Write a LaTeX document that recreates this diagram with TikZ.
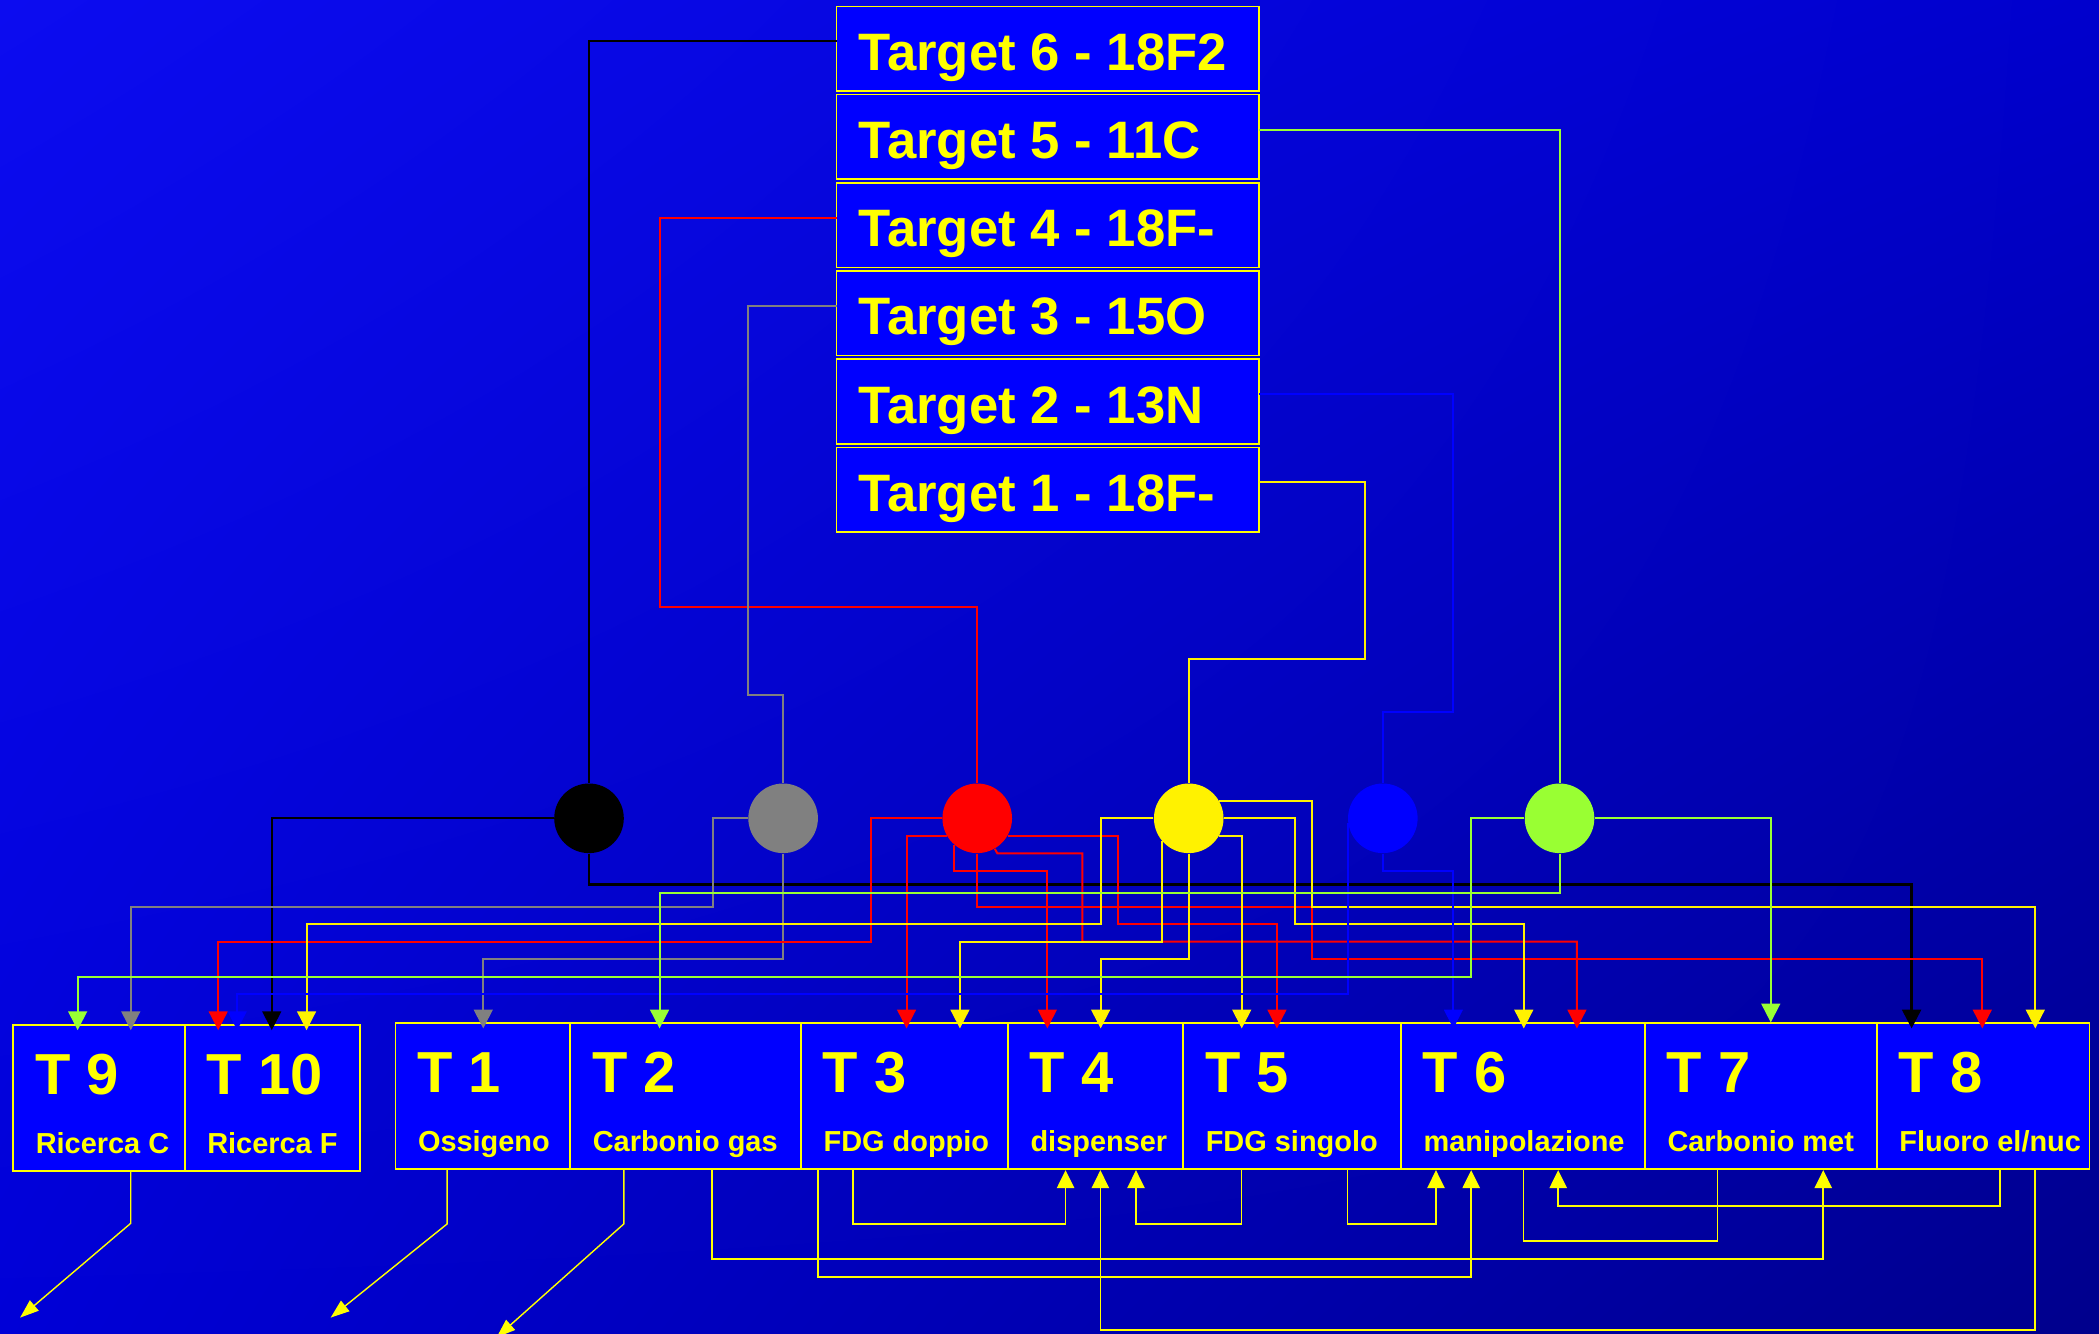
\documentclass[tikz,border=0pt]{standalone}
\usepackage{fontspec}
\setmainfont{Liberation Sans}
\usetikzlibrary{arrows.meta, positioning, fit, shadings}
\definecolor{slideblue}{RGB}{0,0,255}
\definecolor{labelyellow}{RGB}{255,255,0}
\definecolor{wiregreen}{RGB}{153,255,51}
\definecolor{wiregray}{RGB}{128,128,128}
\definecolor{bgul}{RGB}{12,12,240}
\definecolor{bgur}{RGB}{0,0,205}
\definecolor{bgll}{RGB}{0,0,215}
\definecolor{bglr}{RGB}{0,0,140}

\tikzset{
  tgbox/.style={draw=labelyellow, fill=slideblue, line width=0.7pt,
    minimum width=6.31cm, minimum height=1.265cm, inner sep=0pt, outer sep=0pt},
  tglabel/.style={text=labelyellow, inner sep=0pt, anchor=base west,
    font=\fontsize{22.4}{26}\selectfont\bfseries},
  tbox/.style={draw=labelyellow, fill=slideblue, line width=0.7pt, inner sep=0pt},
  tnum/.style={text=labelyellow, inner sep=0pt, anchor=base west,
    font=\fontsize{24.6}{28}\selectfont\bfseries},
  tsub/.style={text=labelyellow, inner sep=0pt, anchor=base west,
    font=\fontsize{12.3}{14}\selectfont\bfseries},
  hub/.style={circle, minimum size=1.04cm, inner sep=0pt},
  link/.style={line width=0.85pt},
  wire/.style={line width=0.85pt, -{Triangle[length=2.8mm, width=2.8mm]},
    shorten >=-0.09cm},
  feed/.style={labelyellow, line width=0.7pt,
    -{Triangle[length=2.7mm, width=2.6mm]}},
  outlet/.style={labelyellow, line width=0.6pt,
    -{Triangle[length=2.8mm, width=2mm]}},
}

\begin{document}
\begin{tikzpicture}[x=0.02cm, y=-0.02cm]
  \useasboundingbox (0,0) rectangle (1568,996);
  \shade[upper left=bgul, upper right=bgur, lower left=bgll, lower right=bglr]
    (0,0) rectangle (1568,996);

  % targets
  \node[tgbox, anchor=north west] (tg6) at (625,4.8) {};
  \node[tgbox, below=1.5pt of tg6] (tg5) {};
  \node[tgbox, below=1.5pt of tg5] (tg4) {};
  \node[tgbox, below=1.5pt of tg4] (tg3) {};
  \node[tgbox, below=1.5pt of tg3] (tg2) {};
  \node[tgbox, below=1.5pt of tg2] (tg1) {};
  \foreach \nm/\lbl in {tg6/Target 6 - 18F2, tg5/Target 5 - 11C,
      tg4/Target 4 - 18F-, tg3/Target 3 - 15O, tg2/Target 2 - 13N,
      tg1/Target 1 - 18F-}
    \node[tglabel] at ([xshift=0.325cm, yshift=-0.956cm]\nm.north west) {\lbl};

  % hot cells
  \foreach \nm/\xa/\xb/\ya/\yb/\num/\sub in {
      t9/9.9/138/765.7/874.8/9/Ricerca C,
      t10/138/269/765.7/874.8/10/Ricerca F,
      t1/295.4/426/764.4/873.5/1/Ossigeno,
      t2/426/598.4/764.4/873.5/2/Carbonio gas,
      t3/598.4/753/764.4/873.5/3/FDG doppio,
      t4/753/883.9/764.4/873.5/4/dispenser,
      t5/883.9/1046.6/764.4/873.5/5/FDG singolo,
      t6/1046.6/1228.8/764.4/873.5/6/manipolazione,
      t7/1228.8/1402/764.4/873.5/7/Carbonio met,
      t8/1402/1561/764.4/873.5/8/{Fluoro el/nuc}}
  {
    \node[tbox, fit={(\xa,\ya) (\xb,\yb)}] (\nm) {};
    \node[tnum] at (\xa+16,\ya+51.8) {T \num};
    \node[tsub] at (\xa+16.5,\ya+95.9) {\sub};
  }

  % switches
  \node[hub, fill=black] (cblk) at (440,611.3) {};
  \node[hub, fill=wiregray] (cgry) at (585,611.3) {};
  \node[hub, fill=red] (cred) at (730,611.3) {};
  \node[hub, fill=yellow] (cyel) at (888,611.3) {};
  \node[hub, fill=slideblue] (cblu) at (1033,611.3) {};
  \node[hub, fill=wiregreen] (cgrn) at (1165,611.3) {};

  \draw[link, black] ([yshift=0.11cm]tg6.west) -| (cblk.north);
  \draw[link, red] ([yshift=0.11cm]tg4.west) -| (493,453.2) -| (cred.north);
  \draw[link, wiregray] ([yshift=0.11cm]tg3.west) -| (558.6,519.2) -| (cgry.north);
  \draw[link, wiregreen] ([yshift=0.11cm]tg5.east) -| (cgrn.north);
  \draw[link, slideblue] ([yshift=0.11cm]tg2.east) -| (1085.7,532.1) -| (cblu.north);
  \draw[link, yellow] ([yshift=0.11cm]tg1.east) -| (1019.8,492.5) -| (cyel.north);

  \draw[wire, black] (cblk.west) -| (t10.north -| 203,0);
  \draw[wire, black, line width=1.2pt] (cblk.south) |- (1428,661) -- (t8.north -| 1428,0);

  \draw[wire, wiregray] (cgry.west) -| (532.4,677.3) -| (t9.north -| 97.7,0);
  \draw[wire, wiregray] (cgry.south) |- (361,716.6) -- (t1.north -| 361,0);

  \draw[wire, red] (cred.west) -| (651,703.4) -| (t10.north -| 163,0);
  \draw[wire, red] (cred.210) -| (t3.north -| 677.2,0);
  \draw[wire, red] (cred.228) |- (782.4,650.6) -- (t4.north -| 782.4,0);
  \draw[wire, red] (cred.330) -| (835.5,690.2) -| (t5.north -| 953.9,0);
  \draw[wire, red] (cred.300) -- (745,637.4) -| (808.5,703.4) -| (t6.north -| 1178,0);
  \draw[wire, red] (cred.south) |- (980.2,677.3) -- (980.2,716.6) -| (t8.north -| 1480.8,0);

  \draw[wire, yellow] (cyel.west) -| (822.4,690.2) -| (t10.north -| 229,0);
  \draw[wire, yellow] (cyel.220) |- (717.1,703.4) -- (t3.north -| 717.1,0);
  \draw[wire, yellow] (cyel.south) |- (822.2,716.6) -- (t4.north -| 822.2,0);
  \draw[wire, yellow] (cyel.330) -| (t5.north -| 927.6,0);
  \draw[wire, yellow] (cyel.east) -| (967.2,690.3) -| (t6.north -| 1138.3,0);
  \draw[wire, yellow] (cyel.30) -| (980.2,677.3) -| (t8.north -| 1520.4,0);

  \draw[wire, slideblue] (cblu.188) |- (177.2,742.8) -- (t10.north -| 177.2,0);
  \draw[wire, slideblue] (cblu.south) |- (1085.7,650.6) -- (t6.north -| 1085.7,0);

  \draw[wire, wiregreen] (cgrn.west) -| (1098.6,729.8) -| (t9.north -| 58,0);
  \draw[wire, wiregreen] (cgrn.south) |- (492.7,666.8) -- (t2.north -| 492.7,0);
  \draw[wire, wiregreen, shorten >=0pt] (cgrn.east) -| (t7.north -| 1322.8,0);

  % returns between cells
  \draw[feed] (t2.south -| 532,0) |- (1362,940.6) -- (t7.south -| 1362,0);
  \draw[feed] (t3.south -| 611,0) |- (1099,953.7) -- (t6.south -| 1099,0);
  \draw[feed] (t3.south -| 637,0) |- (796,914.3) -- (t4.south -| 796,0);
  \draw[feed] (t5.south -| 927.5,0) |- (848.6,914.3) -- (t4.south -| 848.6,0);
  \draw[feed] (t5.south -| 1006.5,0) |- (1072.7,914.3) -- (t6.south -| 1072.7,0);
  \draw[feed, -] (t6.south -| 1138,0) |- (1283,927) -- (t7.south -| 1283,0);
  \draw[feed] (t8.south -| 1494,0) |- (1164,901) -- (t6.south -| 1164,0);
  \draw[feed] (t8.south -| 1520,0) |- (822,993.5) -- (t4.south -| 822,0);

  \coordinate (out9) at (15,984.3);
  \coordinate (out1) at (247,984.3);
  \coordinate (out2) at (371,999);
  \draw[outlet] (t9.south -| 97.7,0) -- (97.7,913.8) -- (out9);
  \draw[outlet] (t1.south -| 334,0) -- (334,914.3) -- (out1);
  \draw[outlet] (t2.south -| 466,0) -- (466,914.3) -- (out2);
\end{tikzpicture}
\end{document}
